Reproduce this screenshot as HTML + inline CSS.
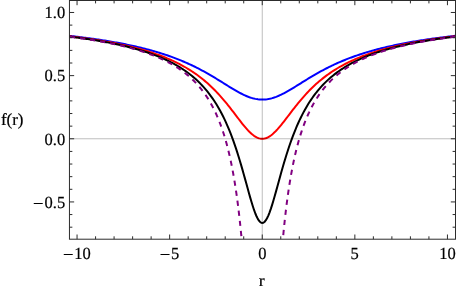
<!DOCTYPE html>
<html><head><meta charset="utf-8"><style>
html,body{margin:0;padding:0;background:#fff;}
svg{display:block;will-change:transform}
text{font-family:"Liberation Serif",serif;font-size:17px;fill:#000;stroke:#000;stroke-width:0.2px;text-rendering:geometricPrecision}
</style></head><body>
<svg width="457" height="291" viewBox="0 0 457 291">
<rect width="457" height="291" fill="#fff"/>
<defs><clipPath id="c"><rect x="69.45" y="0.50" width="386.05" height="238.70"/></clipPath></defs>
<g clip-path="url(#c)">
<path d="M68.52,35.75 L69.82,35.90 L71.12,36.04 L72.42,36.19 L73.71,36.34 L75.01,36.50 L76.31,36.65 L77.61,36.81 L78.90,36.97 L80.20,37.13 L81.50,37.29 L82.79,37.45 L84.09,37.62 L85.39,37.79 L86.69,37.96 L87.98,38.13 L89.28,38.31 L90.58,38.49 L91.88,38.67 L93.17,38.85 L94.47,39.04 L95.77,39.22 L97.07,39.41 L98.36,39.61 L99.66,39.80 L100.96,40.00 L102.25,40.20 L103.55,40.40 L104.85,40.61 L106.15,40.82 L107.44,41.03 L108.74,41.25 L110.04,41.46 L111.34,41.68 L112.63,41.91 L113.93,42.14 L115.23,42.37 L116.53,42.60 L117.82,42.84 L119.12,43.08 L120.42,43.33 L121.71,43.57 L123.01,43.83 L124.31,44.08 L125.61,44.34 L126.90,44.61 L128.20,44.88 L129.50,45.15 L130.80,45.42 L132.09,45.70 L133.39,45.99 L134.69,46.28 L135.99,46.57 L137.28,46.87 L138.58,47.18 L139.88,47.49 L141.17,47.80 L142.47,48.12 L143.77,48.44 L145.07,48.77 L146.36,49.11 L147.66,49.45 L148.96,49.79 L150.26,50.14 L151.55,50.50 L152.85,50.87 L154.15,51.24 L155.45,51.61 L156.74,51.99 L158.04,52.38 L159.34,52.78 L160.63,53.18 L161.93,53.59 L163.23,54.01 L164.53,54.43 L165.82,54.86 L167.12,55.30 L168.42,55.75 L169.72,56.20 L171.01,56.67 L172.31,57.14 L173.61,57.62 L174.91,58.10 L176.20,58.60 L177.50,59.11 L178.80,59.62 L180.09,60.14 L181.39,60.67 L182.69,61.21 L183.99,61.77 L185.28,62.33 L186.58,62.90 L187.88,63.48 L189.18,64.06 L190.47,64.66 L191.77,65.27 L193.07,65.89 L194.37,66.52 L195.66,67.16 L196.96,67.82 L198.26,68.48 L199.55,69.15 L200.85,69.83 L202.15,70.52 L203.45,71.22 L204.74,71.93 L206.04,72.65 L207.34,73.39 L208.64,74.13 L209.93,74.87 L211.23,75.63 L212.53,76.40 L213.83,77.17 L215.12,77.95 L216.42,78.74 L217.72,79.53 L219.01,80.33 L220.31,81.13 L221.61,81.94 L222.91,82.75 L224.20,83.56 L225.50,84.37 L226.80,85.17 L228.10,85.98 L229.39,86.78 L230.69,87.58 L231.99,88.37 L233.29,89.15 L234.58,89.91 L235.88,90.67 L237.18,91.41 L238.47,92.13 L239.77,92.83 L241.07,93.51 L242.37,94.17 L243.66,94.79 L244.96,95.39 L246.26,95.96 L247.56,96.50 L248.85,96.99 L250.15,97.45 L251.45,97.87 L252.75,98.25 L254.04,98.58 L255.34,98.87 L256.64,99.11 L257.93,99.30 L259.23,99.45 L260.53,99.54 L261.83,99.58 L263.12,99.57 L264.42,99.51 L265.72,99.40 L267.02,99.24 L268.31,99.03 L269.61,98.78 L270.91,98.47 L272.20,98.12 L273.50,97.73 L274.80,97.30 L276.10,96.83 L277.39,96.31 L278.69,95.77 L279.99,95.19 L281.29,94.58 L282.58,93.94 L283.88,93.28 L285.18,92.59 L286.48,91.88 L287.77,91.15 L289.07,90.41 L290.37,89.65 L291.66,88.88 L292.96,88.09 L294.26,87.30 L295.56,86.50 L296.85,85.70 L298.15,84.89 L299.45,84.09 L300.75,83.28 L302.04,82.47 L303.34,81.66 L304.64,80.85 L305.94,80.05 L307.23,79.26 L308.53,78.47 L309.83,77.68 L311.12,76.90 L312.42,76.13 L313.72,75.37 L315.02,74.61 L316.31,73.87 L317.61,73.13 L318.91,72.40 L320.21,71.69 L321.50,70.98 L322.80,70.28 L324.10,69.59 L325.40,68.91 L326.69,68.25 L327.99,67.59 L329.29,66.94 L330.58,66.30 L331.88,65.68 L333.18,65.06 L334.48,64.46 L335.77,63.86 L337.07,63.27 L338.37,62.70 L339.67,62.13 L340.96,61.57 L342.26,61.03 L343.56,60.49 L344.86,59.96 L346.15,59.44 L347.45,58.93 L348.75,58.43 L350.04,57.93 L351.34,57.45 L352.64,56.97 L353.94,56.51 L355.23,56.05 L356.53,55.59 L357.83,55.15 L359.13,54.71 L360.42,54.28 L361.72,53.86 L363.02,53.45 L364.32,53.04 L365.61,52.64 L366.91,52.25 L368.21,51.86 L369.50,51.48 L370.80,51.11 L372.10,50.74 L373.40,50.38 L374.69,50.02 L375.99,49.67 L377.29,49.33 L378.59,48.99 L379.88,48.66 L381.18,48.33 L382.48,48.01 L383.78,47.69 L385.07,47.38 L386.37,47.07 L387.67,46.77 L388.96,46.47 L390.26,46.18 L391.56,45.89 L392.86,45.61 L394.15,45.33 L395.45,45.05 L396.75,44.78 L398.05,44.52 L399.34,44.25 L400.64,43.99 L401.94,43.74 L403.24,43.49 L404.53,43.24 L405.83,43.00 L407.13,42.76 L408.42,42.52 L409.72,42.29 L411.02,42.06 L412.32,41.83 L413.61,41.61 L414.91,41.39 L416.21,41.17 L417.51,40.96 L418.80,40.75 L420.10,40.54 L421.40,40.33 L422.70,40.13 L423.99,39.93 L425.29,39.73 L426.59,39.54 L427.88,39.35 L429.18,39.16 L430.48,38.97 L431.78,38.79 L433.07,38.60 L434.37,38.43 L435.67,38.25 L436.97,38.07 L438.26,37.90 L439.56,37.73 L440.86,37.56 L442.16,37.40 L443.45,37.23 L444.75,37.07 L446.05,36.91 L447.34,36.75 L448.64,36.60 L449.94,36.44 L451.24,36.29 L452.53,36.14 L453.83,35.99 L455.13,35.85 L456.43,35.70" fill="none" stroke="#0000ff" stroke-width="2" stroke-linejoin="round"/>
<path d="M68.52,36.20 L69.82,36.35 L71.12,36.51 L72.42,36.67 L73.71,36.83 L75.01,36.99 L76.31,37.15 L77.61,37.32 L78.90,37.49 L80.20,37.66 L81.50,37.83 L82.79,38.01 L84.09,38.19 L85.39,38.37 L86.69,38.55 L87.98,38.74 L89.28,38.93 L90.58,39.12 L91.88,39.31 L93.17,39.51 L94.47,39.71 L95.77,39.91 L97.07,40.11 L98.36,40.32 L99.66,40.53 L100.96,40.75 L102.25,40.97 L103.55,41.19 L104.85,41.41 L106.15,41.64 L107.44,41.87 L108.74,42.10 L110.04,42.34 L111.34,42.59 L112.63,42.83 L113.93,43.08 L115.23,43.34 L116.53,43.59 L117.82,43.86 L119.12,44.12 L120.42,44.39 L121.71,44.67 L123.01,44.95 L124.31,45.23 L125.61,45.52 L126.90,45.82 L128.20,46.12 L129.50,46.42 L130.80,46.73 L132.09,47.05 L133.39,47.37 L134.69,47.70 L135.99,48.03 L137.28,48.37 L138.58,48.72 L139.88,49.07 L141.17,49.43 L142.47,49.79 L143.77,50.17 L145.07,50.55 L146.36,50.93 L147.66,51.33 L148.96,51.73 L150.26,52.14 L151.55,52.56 L152.85,52.98 L154.15,53.42 L155.45,53.86 L156.74,54.32 L158.04,54.78 L159.34,55.25 L160.63,55.73 L161.93,56.23 L163.23,56.73 L164.53,57.24 L165.82,57.77 L167.12,58.31 L168.42,58.85 L169.72,59.42 L171.01,59.99 L172.31,60.58 L173.61,61.18 L174.91,61.79 L176.20,62.42 L177.50,63.06 L178.80,63.72 L180.09,64.39 L181.39,65.08 L182.69,65.79 L183.99,66.51 L185.28,67.25 L186.58,68.01 L187.88,68.79 L189.18,69.58 L190.47,70.40 L191.77,71.24 L193.07,72.09 L194.37,72.97 L195.66,73.88 L196.96,74.80 L198.26,75.75 L199.55,76.72 L200.85,77.72 L202.15,78.74 L203.45,79.79 L204.74,80.87 L206.04,81.98 L207.34,83.11 L208.64,84.27 L209.93,85.46 L211.23,86.68 L212.53,87.93 L213.83,89.21 L215.12,90.53 L216.42,91.87 L217.72,93.24 L219.01,94.65 L220.31,96.09 L221.61,97.56 L222.91,99.05 L224.20,100.58 L225.50,102.14 L226.80,103.72 L228.10,105.33 L229.39,106.96 L230.69,108.62 L231.99,110.29 L233.29,111.97 L234.58,113.67 L235.88,115.37 L237.18,117.07 L238.47,118.77 L239.77,120.45 L241.07,122.12 L242.37,123.76 L243.66,125.37 L244.96,126.93 L246.26,128.43 L247.56,129.88 L248.85,131.25 L250.15,132.54 L251.45,133.73 L252.75,134.82 L254.04,135.79 L255.34,136.64 L256.64,137.35 L257.93,137.93 L259.23,138.36 L260.53,138.64 L261.83,138.77 L263.12,138.74 L264.42,138.56 L265.72,138.23 L267.02,137.75 L268.31,137.12 L269.61,136.36 L270.91,135.47 L272.20,134.45 L273.50,133.33 L274.80,132.10 L276.10,130.78 L277.39,129.39 L278.69,127.92 L279.99,126.39 L281.29,124.81 L282.58,123.19 L283.88,121.54 L285.18,119.87 L286.48,118.18 L287.77,116.48 L289.07,114.78 L290.37,113.08 L291.66,111.39 L292.96,109.71 L294.26,108.04 L295.56,106.39 L296.85,104.77 L298.15,103.17 L299.45,101.60 L300.75,100.05 L302.04,98.53 L303.34,97.04 L304.64,95.59 L305.94,94.16 L307.23,92.76 L308.53,91.40 L309.83,90.07 L311.12,88.76 L312.42,87.49 L313.72,86.25 L315.02,85.04 L316.31,83.86 L317.61,82.71 L318.91,81.59 L320.21,80.49 L321.50,79.43 L322.80,78.39 L324.10,77.37 L325.40,76.38 L326.69,75.42 L327.99,74.48 L329.29,73.56 L330.58,72.67 L331.88,71.79 L333.18,70.94 L334.48,70.11 L335.77,69.30 L337.07,68.51 L338.37,67.74 L339.67,66.99 L340.96,66.26 L342.26,65.54 L343.56,64.84 L344.86,64.16 L346.15,63.49 L347.45,62.84 L348.75,62.20 L350.04,61.57 L351.34,60.97 L352.64,60.37 L353.94,59.79 L355.23,59.22 L356.53,58.66 L357.83,58.12 L359.13,57.59 L360.42,57.06 L361.72,56.55 L363.02,56.05 L364.32,55.57 L365.61,55.09 L366.91,54.62 L368.21,54.16 L369.50,53.71 L370.80,53.27 L372.10,52.83 L373.40,52.41 L374.69,52.00 L375.99,51.59 L377.29,51.19 L378.59,50.80 L379.88,50.41 L381.18,50.04 L382.48,49.67 L383.78,49.30 L385.07,48.95 L386.37,48.60 L387.67,48.25 L388.96,47.92 L390.26,47.58 L391.56,47.26 L392.86,46.94 L394.15,46.63 L395.45,46.32 L396.75,46.01 L398.05,45.72 L399.34,45.42 L400.64,45.13 L401.94,44.85 L403.24,44.57 L404.53,44.30 L405.83,44.03 L407.13,43.76 L408.42,43.50 L409.72,43.25 L411.02,42.99 L412.32,42.75 L413.61,42.50 L414.91,42.26 L416.21,42.02 L417.51,41.79 L418.80,41.56 L420.10,41.33 L421.40,41.11 L422.70,40.89 L423.99,40.67 L425.29,40.46 L426.59,40.25 L427.88,40.04 L429.18,39.84 L430.48,39.64 L431.78,39.44 L433.07,39.24 L434.37,39.05 L435.67,38.86 L436.97,38.67 L438.26,38.49 L439.56,38.31 L440.86,38.13 L442.16,37.95 L443.45,37.77 L444.75,37.60 L446.05,37.43 L447.34,37.26 L448.64,37.10 L449.94,36.93 L451.24,36.77 L452.53,36.61 L453.83,36.45 L455.13,36.30 L456.43,36.15" fill="none" stroke="#ff0000" stroke-width="2" stroke-linejoin="round"/>
<path d="M68.52,36.47 L69.82,36.63 L71.12,36.79 L72.42,36.96 L73.71,37.12 L75.01,37.29 L76.31,37.46 L77.61,37.63 L78.90,37.81 L80.20,37.99 L81.50,38.17 L82.79,38.35 L84.09,38.54 L85.39,38.72 L86.69,38.92 L87.98,39.11 L89.28,39.31 L90.58,39.51 L91.88,39.71 L93.17,39.91 L94.47,40.12 L95.77,40.33 L97.07,40.55 L98.36,40.77 L99.66,40.99 L100.96,41.21 L102.25,41.44 L103.55,41.67 L104.85,41.91 L106.15,42.15 L107.44,42.39 L108.74,42.64 L110.04,42.89 L111.34,43.15 L112.63,43.41 L113.93,43.67 L115.23,43.94 L116.53,44.22 L117.82,44.49 L119.12,44.78 L120.42,45.07 L121.71,45.36 L123.01,45.66 L124.31,45.96 L125.61,46.27 L126.90,46.59 L128.20,46.91 L129.50,47.24 L130.80,47.57 L132.09,47.91 L133.39,48.26 L134.69,48.61 L135.99,48.97 L137.28,49.34 L138.58,49.71 L139.88,50.09 L141.17,50.48 L142.47,50.88 L143.77,51.29 L145.07,51.70 L146.36,52.13 L147.66,52.56 L148.96,53.00 L150.26,53.45 L151.55,53.91 L152.85,54.39 L154.15,54.87 L155.45,55.36 L156.74,55.87 L158.04,56.38 L159.34,56.91 L160.63,57.45 L161.93,58.01 L163.23,58.58 L164.53,59.16 L165.82,59.76 L167.12,60.37 L168.42,60.99 L169.72,61.64 L171.01,62.30 L172.31,62.98 L173.61,63.67 L174.91,64.39 L176.20,65.12 L177.50,65.87 L178.80,66.65 L180.09,67.45 L181.39,68.27 L182.69,69.11 L183.99,69.98 L185.28,70.88 L186.58,71.80 L187.88,72.75 L189.18,73.73 L190.47,74.74 L191.77,75.78 L193.07,76.86 L194.37,77.97 L195.66,79.12 L196.96,80.31 L198.26,81.54 L199.55,82.81 L200.85,84.12 L202.15,85.49 L203.45,86.90 L204.74,88.36 L206.04,89.88 L207.34,91.45 L208.64,93.09 L209.93,94.78 L211.23,96.54 L212.53,98.38 L213.83,100.28 L215.12,102.26 L216.42,104.33 L217.72,106.47 L219.01,108.71 L220.31,111.04 L221.61,113.48 L222.91,116.01 L224.20,118.65 L225.50,121.41 L226.80,124.29 L228.10,127.29 L229.39,130.42 L230.69,133.68 L231.99,137.08 L233.29,140.62 L234.58,144.30 L235.88,148.13 L237.18,152.11 L238.47,156.22 L239.77,160.48 L241.07,164.86 L242.37,169.36 L243.66,173.95 L244.96,178.63 L246.26,183.34 L247.56,188.07 L248.85,192.76 L250.15,197.36 L251.45,201.80 L252.75,206.02 L254.04,209.94 L255.34,213.49 L256.64,216.57 L257.93,219.12 L259.23,221.07 L260.53,222.35 L261.83,222.94 L263.12,222.82 L264.42,221.98 L265.72,220.46 L267.02,218.30 L268.31,215.56 L269.61,212.31 L270.91,208.62 L272.20,204.59 L273.50,200.28 L274.80,195.77 L276.10,191.14 L277.39,186.43 L278.69,181.70 L279.99,177.00 L281.29,172.35 L282.58,167.78 L283.88,163.32 L285.18,158.99 L286.48,154.78 L287.77,150.71 L289.07,146.79 L290.37,143.01 L291.66,139.37 L292.96,135.88 L294.26,132.53 L295.56,129.31 L296.85,126.23 L298.15,123.27 L299.45,120.44 L300.75,117.72 L302.04,115.12 L303.34,112.62 L304.64,110.22 L305.94,107.93 L307.23,105.72 L308.53,103.60 L309.83,101.57 L311.12,99.61 L312.42,97.73 L313.72,95.93 L315.02,94.19 L316.31,92.51 L317.61,90.90 L318.91,89.35 L320.21,87.85 L321.50,86.40 L322.80,85.01 L324.10,83.66 L325.40,82.36 L326.69,81.11 L327.99,79.89 L329.29,78.72 L330.58,77.58 L331.88,76.48 L333.18,75.42 L334.48,74.39 L335.77,73.39 L337.07,72.42 L338.37,71.48 L339.67,70.56 L340.96,69.68 L342.26,68.82 L343.56,67.98 L344.86,67.17 L346.15,66.38 L347.45,65.61 L348.75,64.86 L350.04,64.14 L351.34,63.43 L352.64,62.74 L353.94,62.07 L355.23,61.41 L356.53,60.78 L357.83,60.15 L359.13,59.55 L360.42,58.96 L361.72,58.38 L363.02,57.82 L364.32,57.27 L365.61,56.73 L366.91,56.20 L368.21,55.69 L369.50,55.19 L370.80,54.70 L372.10,54.22 L373.40,53.75 L374.69,53.29 L375.99,52.85 L377.29,52.41 L378.59,51.98 L379.88,51.56 L381.18,51.15 L382.48,50.74 L383.78,50.35 L385.07,49.96 L386.37,49.58 L387.67,49.21 L388.96,48.84 L390.26,48.49 L391.56,48.14 L392.86,47.79 L394.15,47.45 L395.45,47.12 L396.75,46.80 L398.05,46.48 L399.34,46.16 L400.64,45.86 L401.94,45.55 L403.24,45.26 L404.53,44.97 L405.83,44.68 L407.13,44.40 L408.42,44.12 L409.72,43.85 L411.02,43.58 L412.32,43.32 L413.61,43.06 L414.91,42.80 L416.21,42.55 L417.51,42.31 L418.80,42.07 L420.10,41.83 L421.40,41.59 L422.70,41.36 L423.99,41.13 L425.29,40.91 L426.59,40.69 L427.88,40.47 L429.18,40.26 L430.48,40.05 L431.78,39.84 L433.07,39.64 L434.37,39.44 L435.67,39.24 L436.97,39.04 L438.26,38.85 L439.56,38.66 L440.86,38.47 L442.16,38.29 L443.45,38.11 L444.75,37.93 L446.05,37.75 L447.34,37.57 L448.64,37.40 L449.94,37.23 L451.24,37.06 L452.53,36.90 L453.83,36.74 L455.13,36.57 L456.43,36.42" fill="none" stroke="#000000" stroke-width="2" stroke-linejoin="round"/>
<path d="M68.52,36.63 L69.02,36.69 L69.52,36.75 L70.01,36.82 L70.51,36.88 L71.00,36.94 L71.49,37.00 L71.98,37.07 L72.48,37.13 L72.97,37.20 L73.46,37.26 L73.95,37.32 L74.43,37.39 L74.92,37.45 L75.41,37.52 L75.90,37.58 L76.38,37.65 L76.87,37.72 L77.35,37.78 L77.83,37.85 L78.32,37.91 L78.80,37.98 L79.28,38.05 L79.76,38.12 L80.24,38.18 L80.72,38.25 L81.20,38.32 L81.68,38.39 L82.16,38.46 L82.63,38.52 L83.11,38.59 L83.58,38.66 L84.06,38.73 L84.53,38.80 L85.00,38.87 L85.48,38.94 L85.95,39.01 L86.42,39.09 L86.89,39.16 L87.36,39.23 L87.83,39.30 L88.29,39.37 L88.76,39.45 L89.23,39.52 L89.69,39.59 L90.16,39.66 L90.62,39.74 L91.09,39.81 L91.55,39.89 L92.01,39.96 L92.47,40.03 L92.94,40.11 L93.40,40.19 L93.86,40.26 L94.31,40.34 L94.77,40.41 L95.23,40.49 L95.69,40.57 L96.14,40.64 L96.60,40.72 L97.05,40.80 L97.51,40.88 L97.96,40.95 L98.41,41.03 L98.86,41.11 L99.31,41.19 L99.76,41.27 L100.21,41.35 L100.66,41.43 L101.11,41.51 L101.56,41.59 L102.00,41.67 L102.45,41.76 L102.90,41.84 L103.34,41.92 L103.78,42.00 L104.23,42.08 L104.67,42.17 L105.11,42.25 L105.55,42.33 L105.99,42.42 L106.43,42.50 L106.87,42.59 L107.31,42.67 L107.75,42.76 L108.18,42.84 L108.62,42.93 L109.05,43.02 L109.49,43.10 L109.92,43.19 L110.36,43.28 L110.79,43.37 L111.22,43.45 L111.65,43.54 L112.08,43.63 L112.51,43.72 L112.94,43.81 L113.37,43.90 L113.80,43.99 L114.22,44.08 L114.65,44.17 L115.07,44.27 L115.50,44.36 L115.92,44.45 L116.35,44.54 L116.77,44.64 L117.19,44.73 L117.61,44.82 L118.03,44.92 L118.45,45.01 L118.87,45.11 L119.29,45.20 L119.71,45.30 L120.12,45.40 L120.54,45.49 L120.95,45.59 L121.37,45.69 L121.78,45.78 L122.20,45.88 L122.61,45.98 L123.02,46.08 L123.43,46.18 L123.84,46.28 L124.25,46.38 L124.66,46.48 L125.07,46.58 L125.48,46.68 L125.88,46.79 L126.29,46.89 L126.70,46.99 L127.10,47.09 L127.50,47.20 L127.91,47.30 L128.31,47.41 L128.71,47.51 L129.11,47.62 L129.51,47.72 L129.91,47.83 L130.31,47.94 L130.71,48.04 L131.11,48.15 L131.51,48.26 L131.90,48.37 L132.30,48.48 L132.69,48.59 L133.09,48.70 L133.48,48.81 L133.87,48.92 L134.26,49.03 L134.65,49.14 L135.05,49.26 L135.44,49.37 L135.82,49.48 L136.21,49.60 L136.60,49.71 L136.99,49.83 L137.37,49.94 L137.76,50.06 L138.14,50.17 L138.53,50.29 L138.91,50.41 L139.29,50.53 L139.68,50.65 L140.06,50.77 L140.44,50.88 L140.82,51.00 L141.20,51.13 L141.58,51.25 L141.95,51.37 L142.33,51.49 L142.71,51.61 L143.08,51.74 L143.46,51.86 L143.83,51.99 L144.20,52.11 L144.58,52.24 L144.95,52.36 L145.32,52.49 L145.69,52.62 L146.06,52.74 L146.43,52.87 L146.80,53.00 L147.17,53.13 L147.53,53.26 L147.90,53.39 L148.27,53.52 L148.63,53.65 L149.00,53.79 L149.36,53.92 L149.72,54.05 L150.08,54.19 L150.45,54.32 L150.81,54.46 L151.17,54.59 L151.53,54.73 L151.88,54.87 L152.24,55.01 L152.60,55.14 L152.95,55.28 L153.31,55.42 L153.67,55.56 L154.02,55.70 L154.37,55.85 L154.73,55.99 L155.08,56.13 L155.43,56.27 L155.78,56.42 L156.13,56.56 L156.48,56.71 L156.83,56.86 L157.18,57.00 L157.52,57.15 L157.87,57.30 L158.22,57.45 L158.56,57.60 L158.91,57.75 L159.25,57.90 L159.59,58.05 L159.93,58.20 L160.28,58.36 L160.62,58.51 L160.96,58.66 L161.30,58.82 L161.63,58.98 L161.97,59.13 L162.31,59.29 L162.65,59.45 L162.98,59.61 L163.32,59.77 L163.65,59.93 L163.98,60.09 L164.32,60.25 L164.65,60.41 L164.98,60.58 L165.31,60.74 L165.64,60.90 L165.97,61.07 L166.30,61.24 L166.63,61.40 L166.96,61.57 L167.28,61.74 L167.61,61.91 L167.93,62.08 L168.26,62.25 L168.58,62.42 L168.90,62.60 L169.23,62.77 L169.55,62.94 L169.87,63.12 L170.19,63.30 L170.51,63.47 L170.83,63.65 L171.15,63.83 L171.46,64.01 L171.78,64.19 L172.10,64.37 L172.41,64.55 L172.73,64.74 L173.04,64.92 L173.35,65.10 L173.66,65.29 L173.98,65.48 L174.29,65.66 L174.60,65.85 L174.91,66.04 L175.22,66.23 L175.52,66.42 L175.83,66.61 L176.14,66.81 L176.44,67.00 L176.75,67.19 L177.05,67.39 L177.36,67.59 L177.66,67.78 L177.96,67.98 L178.26,68.18 L178.57,68.38 L178.87,68.58 L179.17,68.79 L179.46,68.99 L179.76,69.19 L180.06,69.40 L180.36,69.60 L180.65,69.81 L180.95,70.02 L181.24,70.23 L181.54,70.44 L181.83,70.65 L182.12,70.86 L182.41,71.08 L182.70,71.29 L183.00,71.51 L183.28,71.72 L183.57,71.94 L183.86,72.16 L184.15,72.38 L184.44,72.60 L184.72,72.82 L185.01,73.04 L185.29,73.27 L185.58,73.49 L185.86,73.72 L186.14,73.95 L186.42,74.18 L186.70,74.41 L186.98,74.64 L187.26,74.87 L187.54,75.10 L187.82,75.33 L188.10,75.57 L188.38,75.81 L188.65,76.04 L188.93,76.28 L189.20,76.52 L189.48,76.76 L189.75,77.01 L190.02,77.25 L190.29,77.49 L190.57,77.74 L190.84,77.99 L191.11,78.24 L191.37,78.48 L191.64,78.74 L191.91,78.99 L192.18,79.24 L192.44,79.50 L192.71,79.75 L192.97,80.01 L193.24,80.27 L193.50,80.53 L193.76,80.79 L194.03,81.05 L194.29,81.31 L194.55,81.58 L194.81,81.84 L195.07,82.11 L195.32,82.38 L195.58,82.65 L195.84,82.92 L196.09,83.19 L196.35,83.47 L196.60,83.74 L196.86,84.02 L197.11,84.30 L197.37,84.58 L197.62,84.86 L197.87,85.14 L198.12,85.43 L198.37,85.71 L198.62,86.00 L198.87,86.29 L199.11,86.58 L199.36,86.87 L199.61,87.16 L199.85,87.45 L200.10,87.75 L200.34,88.05 L200.58,88.34 L200.83,88.64 L201.07,88.94 L201.31,89.25 L201.55,89.55 L201.79,89.86 L202.03,90.16 L202.27,90.47 L202.51,90.78 L202.74,91.10 L202.98,91.41 L203.22,91.72 L203.45,92.04 L203.68,92.36 L203.92,92.68 L204.15,93.00 L204.38,93.32 L204.61,93.65 L204.84,93.97 L205.07,94.30 L205.30,94.63 L205.53,94.96 L205.76,95.29 L205.99,95.63 L206.21,95.96 L206.44,96.30 L206.66,96.64 L206.89,96.98 L207.11,97.32 L207.33,97.67 L207.56,98.01 L207.78,98.36 L208.00,98.71 L208.22,99.06 L208.44,99.42 L208.66,99.77 L208.87,100.13 L209.09,100.48 L209.31,100.84 L209.52,101.21 L209.74,101.57 L209.95,101.93 L210.17,102.30 L210.38,102.67 L210.59,103.04 L210.80,103.41 L211.01,103.79 L211.22,104.16 L211.43,104.54 L211.64,104.92 L211.85,105.30 L212.06,105.68 L212.26,106.07 L212.47,106.45 L212.67,106.84 L212.88,107.23 L213.08,107.63 L213.28,108.02 L213.49,108.42 L213.69,108.81 L213.89,109.21 L214.09,109.62 L214.29,110.02 L214.49,110.43 L214.69,110.83 L214.88,111.24 L215.08,111.65 L215.27,112.07 L215.47,112.48 L215.66,112.90 L215.86,113.32 L216.05,113.74 L216.24,114.16 L216.43,114.59 L216.63,115.02 L216.82,115.44 L217.00,115.88 L217.19,116.31 L217.38,116.74 L217.57,117.18 L217.76,117.62 L217.94,118.06 L218.13,118.50 L218.31,118.95 L218.49,119.40 L218.68,119.84 L218.86,120.30 L219.04,120.75 L219.22,121.20 L219.40,121.66 L219.58,122.12 L219.76,122.58 L219.94,123.04 L220.12,123.51 L220.29,123.98 L220.47,124.45 L220.64,124.92 L220.82,125.39 L220.99,125.87 L221.16,126.35 L221.34,126.82 L221.51,127.31 L221.68,127.79 L221.85,128.28 L222.02,128.76 L222.19,129.25 L222.36,129.75 L222.52,130.24 L222.69,130.74 L222.86,131.23 L223.02,131.73 L223.19,132.24 L223.35,132.74 L223.51,133.25 L223.68,133.76 L223.84,134.27 L224.00,134.78 L224.16,135.29 L224.32,135.81 L224.48,136.33 L224.63,136.85 L224.79,137.37 L224.95,137.90 L225.11,138.42 L225.26,138.95 L225.41,139.48 L225.57,140.02 L225.72,140.55 L225.87,141.09 L226.03,141.63 L226.18,142.17 L226.33,142.71 L226.48,143.25 L226.63,143.80 L226.77,144.35 L226.92,144.90 L227.07,145.45 L227.21,146.01 L227.36,146.56 L227.50,147.12 L227.65,147.68 L227.79,148.24 L227.93,148.81 L228.08,149.37 L228.22,149.94 L228.36,150.51 L228.50,151.08 L228.64,151.65 L228.77,152.23 L228.91,152.80 L229.05,153.38 L229.18,153.96 L229.32,154.54 L229.45,155.13 L229.59,155.71 L229.72,156.30 L229.85,156.89 L229.99,157.48 L230.12,158.07 L230.25,158.66 L230.38,159.26 L230.51,159.85 L230.63,160.45 L230.76,161.05 L230.89,161.65 L231.02,162.25 L231.14,162.86 L231.27,163.46 L231.39,164.07 L231.51,164.68 L231.64,165.29 L231.76,165.90 L231.88,166.51 L232.00,167.12 L232.12,167.74 L232.24,168.35 L232.36,168.97 L232.47,169.59 L232.59,170.21 L232.71,170.83 L232.82,171.45 L232.94,172.07 L233.05,172.70 L233.16,173.32 L233.28,173.95 L233.39,174.57 L233.50,175.20 L233.61,175.83 L233.72,176.46 L233.83,177.09 L233.94,177.72 L234.05,178.35 L234.15,178.98 L234.26,179.61 L234.36,180.24 L234.47,180.88 L234.57,181.51 L234.68,182.14 L234.78,182.78 L234.88,183.41 L234.98,184.05 L235.08,184.68 L235.18,185.32 L235.28,185.95 L235.38,186.59 L235.48,187.22 L235.58,187.86 L235.67,188.49 L235.77,189.13 L235.86,189.76 L235.96,190.40 L236.05,191.03 L236.14,191.67 L236.23,192.30 L236.33,192.94 L236.42,193.57 L236.51,194.20 L236.60,194.83 L236.68,195.46 L236.77,196.09 L236.86,196.72 L236.95,197.35 L237.03,197.98 L237.12,198.61 L237.20,199.23 L237.28,199.86 L237.37,200.48 L237.45,201.10 L237.53,201.72 L237.61,202.34 L237.69,202.96 L237.77,203.58 L237.85,204.19 L237.93,204.81 L238.00,205.42 L238.08,206.03 L238.16,206.64 L238.23,207.24 L238.30,207.85 L238.38,208.45 L238.45,209.05 L238.52,209.65 L238.59,210.24 L238.67,210.83 L238.74,211.42 L238.80,212.01 L238.87,212.60 L238.94,213.18 L239.01,213.76 L239.07,214.34 L239.14,214.91 L239.21,215.48 L239.27,216.05 L239.33,216.62 L239.40,217.18 L239.46,217.74 L239.52,218.29 L239.58,218.84 L239.64,219.39 L239.70,219.94 L239.76,220.48 L239.82,221.01 L239.87,221.55 L239.93,222.08 L239.99,222.60 L240.04,223.12 L240.10,223.64 L240.15,224.15 L240.20,224.66 L240.25,225.16 L240.31,225.66 L240.36,226.16 L240.41,226.65 L240.46,227.13 L240.50,227.61 L240.55,228.09 L240.60,228.56 L240.65,229.03 L240.69,229.49 L240.74,229.94 L240.78,230.39 L240.83,230.84 L240.87,231.28 L240.91,231.71 L240.95,232.14 L240.99,232.56 L241.03,232.98 L241.07,233.39 L241.11,233.79 L241.15,234.19 L241.19,234.58 L241.22,234.97 L241.26,235.35 L241.29,235.72 L241.33,236.09 L241.36,236.45 L241.40,236.81 L241.43,237.16 L241.46,237.50 L241.49,237.83 L241.52,238.16 L241.55,238.48 L241.58,238.80 L241.61,239.11 L241.63,239.41 L241.66,239.70 L241.69,239.99 L241.71,240.27 L241.74,240.54 L241.76,240.80 L241.78,241.06 L241.81,241.31 L241.83,241.56 L241.85,241.79 L241.87,242.02 L241.89,242.24 L241.91,242.45 L241.93,242.66 L241.94,242.85 L241.96,243.04 L241.98,243.23 L241.99,243.40 L242.01,243.57 L242.02,243.72 L242.03,243.87 L242.05,244.02 L242.06,244.15 L242.07,244.28 L242.08,244.40 L242.09,244.51 L242.10,244.61 L242.10,244.70 L242.11,244.79 L242.12,244.87 L242.13,244.94 L242.13,245.00 L242.14,245.05 L242.14,245.10 L242.14,245.13 L242.14,245.16 L242.15,245.18 L242.15,245.20 L242.15,245.20" fill="none" stroke="#800080" stroke-width="2" stroke-dasharray="5.200 4.935" stroke-dashoffset="8.647"/>
<path d="M282.35,245.20 L282.35,245.20 L282.35,245.18 L282.36,245.16 L282.36,245.13 L282.36,245.10 L282.36,245.05 L282.37,245.00 L282.37,244.94 L282.38,244.87 L282.39,244.79 L282.40,244.70 L282.40,244.61 L282.41,244.51 L282.42,244.39 L282.43,244.28 L282.44,244.15 L282.46,244.01 L282.47,243.87 L282.48,243.72 L282.49,243.56 L282.51,243.40 L282.52,243.22 L282.54,243.04 L282.56,242.85 L282.57,242.65 L282.59,242.44 L282.61,242.23 L282.63,242.01 L282.65,241.78 L282.67,241.55 L282.69,241.30 L282.72,241.05 L282.74,240.79 L282.76,240.53 L282.79,240.25 L282.81,239.97 L282.84,239.69 L282.87,239.39 L282.89,239.09 L282.92,238.78 L282.95,238.47 L282.98,238.14 L283.01,237.82 L283.04,237.48 L283.07,237.14 L283.11,236.79 L283.14,236.43 L283.17,236.07 L283.21,235.70 L283.24,235.33 L283.28,234.94 L283.32,234.56 L283.35,234.16 L283.39,233.76 L283.43,233.36 L283.47,232.95 L283.51,232.53 L283.55,232.11 L283.59,231.68 L283.63,231.24 L283.68,230.80 L283.72,230.36 L283.77,229.91 L283.81,229.45 L283.86,228.99 L283.90,228.52 L283.95,228.05 L284.00,227.57 L284.05,227.09 L284.10,226.60 L284.15,226.11 L284.20,225.62 L284.25,225.12 L284.30,224.61 L284.36,224.10 L284.41,223.59 L284.46,223.07 L284.52,222.55 L284.58,222.02 L284.63,221.49 L284.69,220.96 L284.75,220.42 L284.81,219.88 L284.87,219.33 L284.93,218.78 L284.99,218.23 L285.05,217.67 L285.11,217.11 L285.17,216.55 L285.24,215.99 L285.30,215.42 L285.37,214.84 L285.43,214.27 L285.50,213.69 L285.57,213.11 L285.64,212.53 L285.70,211.94 L285.77,211.35 L285.84,210.76 L285.91,210.16 L285.99,209.57 L286.06,208.97 L286.13,208.37 L286.21,207.77 L286.28,207.16 L286.36,206.55 L286.43,205.94 L286.51,205.33 L286.58,204.72 L286.66,204.11 L286.74,203.49 L286.82,202.87 L286.90,202.25 L286.98,201.63 L287.06,201.01 L287.15,200.39 L287.23,199.76 L287.31,199.14 L287.40,198.51 L287.48,197.88 L287.57,197.25 L287.65,196.62 L287.74,195.99 L287.83,195.36 L287.92,194.73 L288.01,194.10 L288.10,193.46 L288.19,192.83 L288.28,192.20 L288.37,191.56 L288.47,190.93 L288.56,190.29 L288.65,189.66 L288.75,189.02 L288.85,188.38 L288.94,187.75 L289.04,187.11 L289.14,186.47 L289.24,185.84 L289.33,185.20 L289.44,184.57 L289.54,183.93 L289.64,183.29 L289.74,182.66 L289.84,182.02 L289.95,181.39 L290.05,180.75 L290.16,180.12 L290.26,179.49 L290.37,178.85 L290.48,178.22 L290.58,177.59 L290.69,176.96 L290.80,176.33 L290.91,175.70 L291.02,175.07 L291.13,174.44 L291.25,173.82 L291.36,173.19 L291.47,172.57 L291.59,171.94 L291.70,171.32 L291.82,170.70 L291.93,170.08 L292.05,169.46 L292.17,168.84 L292.29,168.22 L292.41,167.60 L292.53,166.99 L292.65,166.38 L292.77,165.76 L292.89,165.15 L293.01,164.54 L293.14,163.93 L293.26,163.33 L293.39,162.72 L293.51,162.12 L293.64,161.51 L293.77,160.91 L293.90,160.31 L294.02,159.71 L294.15,159.12 L294.28,158.52 L294.41,157.93 L294.55,157.34 L294.68,156.74 L294.81,156.16 L294.94,155.57 L295.08,154.98 L295.21,154.40 L295.35,153.82 L295.49,153.24 L295.62,152.66 L295.76,152.08 L295.90,151.51 L296.04,150.93 L296.18,150.36 L296.32,149.79 L296.46,149.23 L296.60,148.66 L296.75,148.10 L296.89,147.53 L297.03,146.97 L297.18,146.41 L297.32,145.86 L297.47,145.30 L297.62,144.75 L297.77,144.20 L297.91,143.65 L298.06,143.11 L298.21,142.56 L298.36,142.02 L298.52,141.48 L298.67,140.94 L298.82,140.40 L298.97,139.87 L299.13,139.33 L299.28,138.80 L299.44,138.27 L299.60,137.75 L299.75,137.22 L299.91,136.70 L300.07,136.18 L300.23,135.66 L300.39,135.14 L300.55,134.63 L300.71,134.12 L300.87,133.61 L301.04,133.10 L301.20,132.59 L301.36,132.09 L301.53,131.58 L301.69,131.08 L301.86,130.59 L302.03,130.09 L302.19,129.60 L302.36,129.10 L302.53,128.61 L302.70,128.13 L302.87,127.64 L303.04,127.16 L303.22,126.67 L303.39,126.19 L303.56,125.72 L303.74,125.24 L303.91,124.77 L304.09,124.30 L304.26,123.83 L304.44,123.36 L304.62,122.89 L304.80,122.43 L304.98,121.97 L305.16,121.51 L305.34,121.05 L305.52,120.60 L305.70,120.15 L305.88,119.70 L306.07,119.25 L306.25,118.80 L306.44,118.35 L306.62,117.91 L306.81,117.47 L306.99,117.03 L307.18,116.59 L307.37,116.16 L307.56,115.73 L307.75,115.30 L307.94,114.87 L308.13,114.44 L308.32,114.02 L308.52,113.59 L308.71,113.17 L308.90,112.75 L309.10,112.34 L309.29,111.92 L309.49,111.51 L309.69,111.10 L309.89,110.69 L310.08,110.28 L310.28,109.87 L310.48,109.47 L310.68,109.07 L310.89,108.67 L311.09,108.27 L311.29,107.87 L311.49,107.48 L311.70,107.09 L311.90,106.70 L312.11,106.31 L312.31,105.92 L312.52,105.54 L312.73,105.16 L312.94,104.77 L313.15,104.39 L313.36,104.02 L313.57,103.64 L313.78,103.27 L313.99,102.90 L314.20,102.53 L314.42,102.16 L314.63,101.79 L314.85,101.43 L315.06,101.06 L315.28,100.70 L315.49,100.34 L315.71,99.98 L315.93,99.63 L316.15,99.27 L316.37,98.92 L316.59,98.57 L316.81,98.22 L317.03,97.87 L317.26,97.53 L317.48,97.18 L317.70,96.84 L317.93,96.50 L318.15,96.16 L318.38,95.83 L318.61,95.49 L318.83,95.16 L319.06,94.82 L319.29,94.49 L319.52,94.16 L319.75,93.84 L319.98,93.51 L320.22,93.19 L320.45,92.86 L320.68,92.54 L320.92,92.22 L321.15,91.91 L321.39,91.59 L321.62,91.27 L321.86,90.96 L322.10,90.65 L322.33,90.34 L322.57,90.03 L322.81,89.72 L323.05,89.42 L323.29,89.11 L323.54,88.81 L323.78,88.51 L324.02,88.21 L324.27,87.91 L324.51,87.62 L324.76,87.32 L325.00,87.03 L325.25,86.74 L325.50,86.45 L325.75,86.16 L326.00,85.87 L326.24,85.58 L326.50,85.30 L326.75,85.01 L327.00,84.73 L327.25,84.45 L327.50,84.17 L327.76,83.89 L328.01,83.62 L328.27,83.34 L328.52,83.07 L328.78,82.79 L329.04,82.52 L329.30,82.25 L329.56,81.99 L329.82,81.72 L330.08,81.45 L330.34,81.19 L330.60,80.92 L330.86,80.66 L331.13,80.40 L331.39,80.14 L331.65,79.88 L331.92,79.63 L332.19,79.37 L332.45,79.12 L332.72,78.86 L332.99,78.61 L333.26,78.36 L333.53,78.11 L333.80,77.87 L334.07,77.62 L334.34,77.37 L334.61,77.13 L334.89,76.89 L335.16,76.64 L335.43,76.40 L335.71,76.16 L335.99,75.92 L336.26,75.69 L336.54,75.45 L336.82,75.22 L337.10,74.98 L337.38,74.75 L337.66,74.52 L337.94,74.29 L338.22,74.06 L338.50,73.83 L338.79,73.60 L339.07,73.38 L339.36,73.15 L339.64,72.93 L339.93,72.71 L340.21,72.48 L340.50,72.26 L340.79,72.04 L341.08,71.83 L341.37,71.61 L341.66,71.39 L341.95,71.18 L342.24,70.96 L342.53,70.75 L342.83,70.54 L343.12,70.33 L343.42,70.12 L343.71,69.91 L344.01,69.70 L344.30,69.49 L344.60,69.29 L344.90,69.08 L345.20,68.88 L345.50,68.68 L345.80,68.47 L346.10,68.27 L346.40,68.07 L346.70,67.87 L347.01,67.68 L347.31,67.48 L347.62,67.28 L347.92,67.09 L348.23,66.89 L348.53,66.70 L348.84,66.51 L349.15,66.31 L349.46,66.12 L349.77,65.93 L350.08,65.75 L350.39,65.56 L350.70,65.37 L351.01,65.18 L351.33,65.00 L351.64,64.81 L351.95,64.63 L352.27,64.45 L352.59,64.27 L352.90,64.09 L353.22,63.91 L353.54,63.73 L353.86,63.55 L354.18,63.37 L354.50,63.19 L354.82,63.02 L355.14,62.84 L355.46,62.67 L355.79,62.49 L356.11,62.32 L356.43,62.15 L356.76,61.98 L357.08,61.81 L357.41,61.64 L357.74,61.47 L358.07,61.30 L358.40,61.14 L358.73,60.97 L359.06,60.81 L359.39,60.64 L359.72,60.48 L360.05,60.31 L360.38,60.15 L360.72,59.99 L361.05,59.83 L361.39,59.67 L361.72,59.51 L362.06,59.35 L362.40,59.19 L362.74,59.04 L363.07,58.88 L363.41,58.72 L363.75,58.57 L364.10,58.41 L364.44,58.26 L364.78,58.11 L365.12,57.96 L365.47,57.80 L365.81,57.65 L366.16,57.50 L366.50,57.35 L366.85,57.20 L367.20,57.06 L367.54,56.91 L367.89,56.76 L368.24,56.62 L368.59,56.47 L368.94,56.33 L369.29,56.18 L369.65,56.04 L370.00,55.90 L370.35,55.75 L370.71,55.61 L371.06,55.47 L371.42,55.33 L371.78,55.19 L372.13,55.05 L372.49,54.92 L372.85,54.78 L373.21,54.64 L373.57,54.50 L373.93,54.37 L374.29,54.23 L374.65,54.10 L375.02,53.96 L375.38,53.83 L375.75,53.70 L376.11,53.57 L376.48,53.43 L376.84,53.30 L377.21,53.17 L377.58,53.04 L377.95,52.91 L378.32,52.79 L378.69,52.66 L379.06,52.53 L379.43,52.40 L379.80,52.28 L380.18,52.15 L380.55,52.03 L380.92,51.90 L381.30,51.78 L381.67,51.65 L382.05,51.53 L382.43,51.41 L382.81,51.28 L383.19,51.16 L383.56,51.04 L383.94,50.92 L384.33,50.80 L384.71,50.68 L385.09,50.56 L385.47,50.45 L385.86,50.33 L386.24,50.21 L386.63,50.09 L387.01,49.98 L387.40,49.86 L387.79,49.75 L388.17,49.63 L388.56,49.52 L388.95,49.40 L389.34,49.29 L389.73,49.18 L390.12,49.06 L390.52,48.95 L390.91,48.84 L391.30,48.73 L391.70,48.62 L392.09,48.51 L392.49,48.40 L392.88,48.29 L393.28,48.18 L393.68,48.07 L394.08,47.97 L394.48,47.86 L394.88,47.75 L395.28,47.65 L395.68,47.54 L396.08,47.44 L396.49,47.33 L396.89,47.23 L397.29,47.12 L397.70,47.02 L398.10,46.92 L398.51,46.81 L398.92,46.71 L399.33,46.61 L399.73,46.51 L400.14,46.41 L400.55,46.31 L400.96,46.20 L401.38,46.11 L401.79,46.01 L402.20,45.91 L402.61,45.81 L403.03,45.71 L403.44,45.61 L403.86,45.52 L404.28,45.42 L404.69,45.32 L405.11,45.23 L405.53,45.13 L405.95,45.04 L406.37,44.94 L406.79,44.85 L407.21,44.75 L407.63,44.66 L408.06,44.56 L408.48,44.47 L408.90,44.38 L409.33,44.29 L409.76,44.20 L410.18,44.10 L410.61,44.01 L411.04,43.92 L411.47,43.83 L411.90,43.74 L412.33,43.65 L412.76,43.56 L413.19,43.47 L413.62,43.39 L414.05,43.30 L414.49,43.21 L414.92,43.12 L415.36,43.04 L415.79,42.95 L416.23,42.86 L416.66,42.78 L417.10,42.69 L417.54,42.61 L417.98,42.52 L418.42,42.44 L418.86,42.35 L419.30,42.27 L419.74,42.18 L420.19,42.10 L420.63,42.02 L421.08,41.93 L421.52,41.85 L421.97,41.77 L422.41,41.69 L422.86,41.61 L423.31,41.53 L423.76,41.45 L424.20,41.37 L424.65,41.29 L425.11,41.21 L425.56,41.13 L426.01,41.05 L426.46,40.97 L426.92,40.89 L427.37,40.81 L427.82,40.73 L428.28,40.66 L428.74,40.58 L429.19,40.50 L429.65,40.43 L430.11,40.35 L430.57,40.27 L431.03,40.20 L431.49,40.12 L431.95,40.05 L432.41,39.97 L432.88,39.90 L433.34,39.82 L433.80,39.75 L434.27,39.68 L434.73,39.60 L435.20,39.53 L435.67,39.46 L436.14,39.38 L436.60,39.31 L437.07,39.24 L437.54,39.17 L438.01,39.10 L438.49,39.02 L438.96,38.95 L439.43,38.88 L439.90,38.81 L440.38,38.74 L440.85,38.67 L441.33,38.60 L441.80,38.53 L442.28,38.47 L442.76,38.40 L443.24,38.33 L443.72,38.26 L444.20,38.19 L444.68,38.12 L445.16,38.06 L445.64,37.99 L446.12,37.92 L446.61,37.86 L447.09,37.79 L447.58,37.72 L448.06,37.66 L448.55,37.59 L449.04,37.53 L449.52,37.46 L450.01,37.40 L450.50,37.33 L450.99,37.27 L451.48,37.20 L451.97,37.14 L452.46,37.07 L452.96,37.01 L453.45,36.95 L453.94,36.88 L454.44,36.82 L454.94,36.76 L455.43,36.70 L455.93,36.63 L456.43,36.57" fill="none" stroke="#800080" stroke-width="2" stroke-dasharray="5.200 4.926" stroke-dashoffset="10.060"/>
</g>
<path d="M69.45,138.78 H455.50 M262.25,0.50 V239.20" stroke="#000" stroke-opacity="0.26" stroke-width="1" fill="none"/>
<path d="M77.05,239.20 v-4.70 M77.05,0.50 v4.70 M95.57,239.20 v-2.90 M95.57,0.50 v2.90 M114.09,239.20 v-2.90 M114.09,0.50 v2.90 M132.61,239.20 v-2.90 M132.61,0.50 v2.90 M151.13,239.20 v-2.90 M151.13,0.50 v2.90 M169.65,239.20 v-4.70 M169.65,0.50 v4.70 M188.17,239.20 v-2.90 M188.17,0.50 v2.90 M206.69,239.20 v-2.90 M206.69,0.50 v2.90 M225.21,239.20 v-2.90 M225.21,0.50 v2.90 M243.73,239.20 v-2.90 M243.73,0.50 v2.90 M262.25,239.20 v-4.70 M262.25,0.50 v4.70 M280.77,239.20 v-2.90 M280.77,0.50 v2.90 M299.29,239.20 v-2.90 M299.29,0.50 v2.90 M317.81,239.20 v-2.90 M317.81,0.50 v2.90 M336.33,239.20 v-2.90 M336.33,0.50 v2.90 M354.85,239.20 v-4.70 M354.85,0.50 v4.70 M373.37,239.20 v-2.90 M373.37,0.50 v2.90 M391.89,239.20 v-2.90 M391.89,0.50 v2.90 M410.41,239.20 v-2.90 M410.41,0.50 v2.90 M428.93,239.20 v-2.90 M428.93,0.50 v2.90 M447.45,239.20 v-4.70 M447.45,0.50 v4.70 M69.45,227.19 h2.90 M455.50,227.19 h-2.90 M69.45,214.56 h2.90 M455.50,214.56 h-2.90 M69.45,201.93 h4.70 M455.50,201.93 h-4.70 M69.45,189.30 h2.90 M455.50,189.30 h-2.90 M69.45,176.67 h2.90 M455.50,176.67 h-2.90 M69.45,164.04 h2.90 M455.50,164.04 h-2.90 M69.45,151.41 h2.90 M455.50,151.41 h-2.90 M69.45,138.78 h4.70 M455.50,138.78 h-4.70 M69.45,126.15 h2.90 M455.50,126.15 h-2.90 M69.45,113.52 h2.90 M455.50,113.52 h-2.90 M69.45,100.89 h2.90 M455.50,100.89 h-2.90 M69.45,88.26 h2.90 M455.50,88.26 h-2.90 M69.45,75.63 h4.70 M455.50,75.63 h-4.70 M69.45,63.00 h2.90 M455.50,63.00 h-2.90 M69.45,50.37 h2.90 M455.50,50.37 h-2.90 M69.45,37.74 h2.90 M455.50,37.74 h-2.90 M69.45,25.11 h2.90 M455.50,25.11 h-2.90 M69.45,12.48 h4.70 M455.50,12.48 h-4.70" stroke="#2c2c2c" stroke-width="1" fill="none"/>
<rect x="69.45" y="0.50" width="386.05" height="238.70" fill="none" stroke="#2c2c2c" stroke-width="1"/>
<g>
<text transform="translate(63.02,260.99) scale(1.100,1.150)">−</text>
<text transform="translate(74.20,258.80) scale(0.970,1.000)" text-anchor="start">10</text>
<text transform="translate(159.72,260.99) scale(1.100,1.150)">−</text>
<text transform="translate(170.89,258.80) scale(0.970,1.000)" text-anchor="start">5</text>
<text transform="translate(262.40,258.80) scale(0.970,1.000)" text-anchor="middle">0</text>
<text transform="translate(354.55,258.80) scale(0.970,1.000)" text-anchor="middle">5</text>
<text transform="translate(447.60,258.80) scale(0.970,1.000)" text-anchor="middle">10</text>
<text transform="translate(65.20,18.23) scale(0.970,1.000)" text-anchor="end">1.0</text>
<text transform="translate(65.20,81.38) scale(0.970,1.000)" text-anchor="end">0.5</text>
<text transform="translate(65.20,144.53) scale(0.970,1.000)" text-anchor="end">0.0</text>
<text transform="translate(65.20,207.68) scale(0.970,1.000)" text-anchor="end">0.5</text>
<text transform="translate(33.06,209.87) scale(1.100,1.150)">−</text>
<text x="0.9" y="124.5">f(r)</text>
<text transform="translate(261.6,286) scale(1.05,0.97)" text-anchor="middle">r</text>
</g>
</svg>
</body></html>
